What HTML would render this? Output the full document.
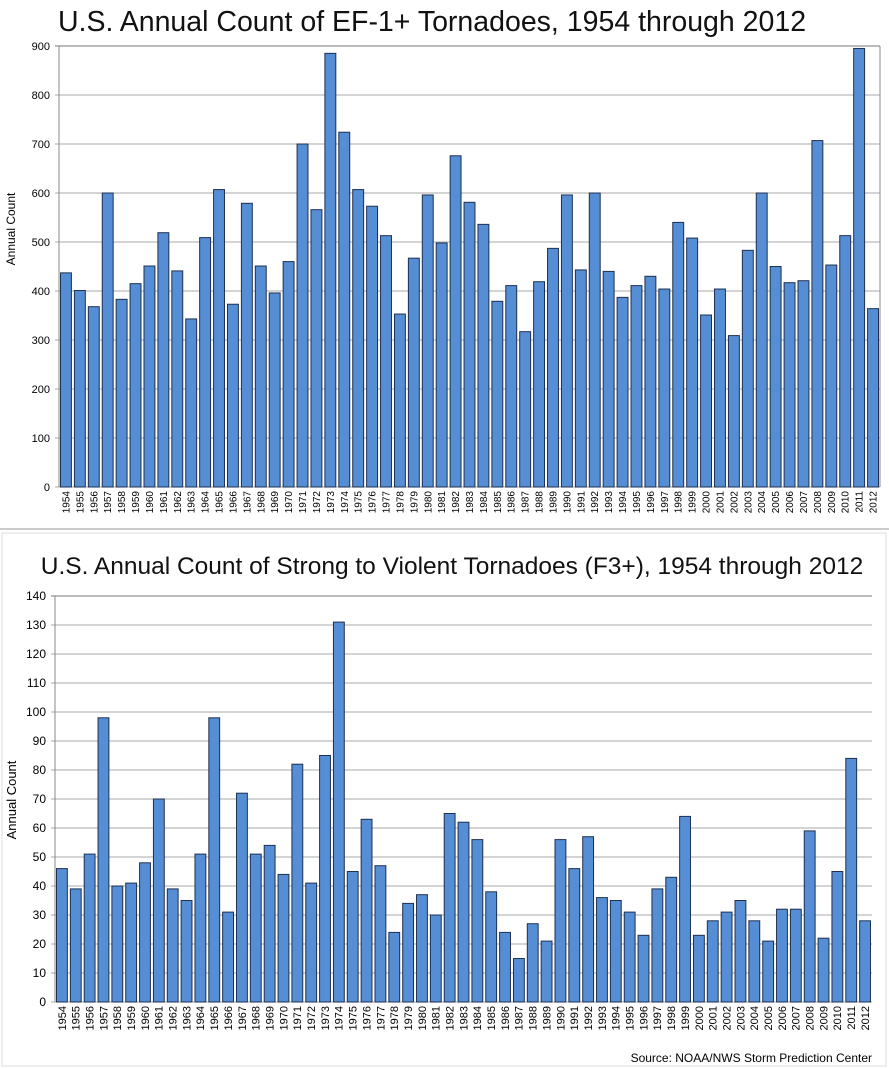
<!DOCTYPE html>
<html><head><meta charset="utf-8"><style>body{margin:0;background:#fff}svg{display:block}</style></head><body>
<svg id="s" width="889" height="1068" xmlns="http://www.w3.org/2000/svg" font-family="Liberation Sans, sans-serif"></svg>
<script>
(function(){
const s=document.getElementById('s');
const dTop=[437,401,368,600,383,415,451,519,441,343,509,607,373,579,451,396,460,700,566,885,724,607,573,513,353,467,596,498,676,581,536,379,411,317,419,487,596,443,600,440,387,411,430,404,540,508,351,404,309,483,600,450,417,421,707,453,513,895,364];
const dBot=[46,39,51,98,40,41,48,70,39,35,51,98,31,72,51,54,44,82,41,85,131,45,63,47,24,34,37,30,65,62,56,38,24,15,27,21,56,46,57,36,35,31,23,39,43,64,23,28,31,35,28,21,32,32,59,22,45,84,28];
let h='';
h+='<line x1="0" y1="529" x2="889" y2="529" stroke="#ccc" stroke-width="2"/>';
h+='<rect x="2" y="533" width="884" height="533" fill="none" stroke="#ddd"/>';
function chart(d,x0,x1,y0,yT,max,step,title,tx,ty,tfs,yfs,lfs,ylx,yly,border){
 h+=`<text x="${tx}" y="${ty}" font-size="${tfs}" text-anchor="middle" fill="#111">${title}</text>`;
 const sc=(y0-yT)/max;
 for(let v=0;v<=max;v+=step){const y=y0-v*sc;
  h+=`<line x1="${x0-4}" y1="${y}" x2="${x1}" y2="${y}" stroke="${v==max?'#777':'#aaa'}" stroke-width="1"/>`;
  h+=`<text x="${x0-9}" y="${y+4}" font-size="${yfs}" text-anchor="end">${v}</text>`;}
 h+=`<line x1="${x0}" y1="${yT}" x2="${x0}" y2="${y0}" stroke="#888"/>`;
 if(border)h+=`<line x1="${x1}" y1="${yT}" x2="${x1}" y2="${y0}" stroke="#888"/>`;
 const cw=(x1-x0)/59;
 d.forEach((v,i)=>{const x=x0+i*cw+1.5,y=y0-v*sc;
  h+=`<rect x="${x}" y="${y}" width="${cw-3}" height="${v*sc}" fill="#558ed5" stroke="#1f3050" stroke-width="1"/>`;
  const cx=x0+(i+0.5)*cw;
  h+=`<text transform="translate(${cx+lfs*0.35},${y0+4}) rotate(-90)" font-size="${lfs}" text-anchor="end">${1954+i}</text>`;});
 h+=`<text transform="translate(${ylx},${yly}) rotate(-90)" font-size="${yfs+1}" text-anchor="middle">Annual Count</text>`;
}
chart(dTop,59,880,487,46,900,100,'U.S. Annual Count of EF-1+ Tornadoes, 1954 through 2012',432,31,28.5,11,10,15,229,true);
chart(dBot,55,872,1002,596,140,10,'U.S. Annual Count of Strong to Violent Tornadoes (F3+), 1954 through 2012',452,574,24.5,12,11,16,800,false);
h+='<text x="872" y="1062" font-size="12" text-anchor="end">Source: NOAA/NWS Storm Prediction Center</text>';
s.innerHTML=h;
})();
</script>
</body></html>
